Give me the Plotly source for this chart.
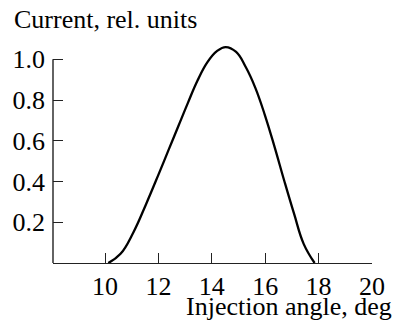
import plotly.graph_objects as go

# Injection angle (deg) and relative current
angle = [10.12, 10.58, 11.06, 11.54, 12.02, 12.38, 12.74, 13.10, 13.46, 13.83,
         14.19, 14.52, 14.91, 15.27, 15.63, 15.99, 16.35, 16.71, 17.08, 17.44, 17.85]
current = [0.0, 0.045, 0.150, 0.29, 0.44, 0.555, 0.67, 0.785, 0.895, 0.985,
           1.04, 1.06, 1.036, 0.962, 0.860, 0.725, 0.570, 0.405, 0.242, 0.094, 0.0]

x_ticks = [10, 12, 14, 16, 18, 20]
y_ticks = [0.2, 0.4, 0.6, 0.8, 1.0]
x_title = "Injection angle, deg"
y_title = "Current, rel. units"

FONT = "Liberation Serif, Times New Roman, serif"
FS = 26
AXIS_COLOR = "#222222"

fig = go.Figure()
fig.add_trace(go.Scatter(
    x=angle, y=current, mode="lines",
    line=dict(color="black", width=2.3, shape="spline", smoothing=1.2),
    hoverinfo="skip", showlegend=False,
))

fig.update_layout(
    width=397, height=324,
    margin=dict(l=50, r=16, t=43, b=61),
    paper_bgcolor="white", plot_bgcolor="white",
    font=dict(family=FONT, size=FS, color="black"),
    xaxis=dict(
        range=[8.05, 20], tickvals=x_ticks,
        ticks="inside", ticklen=10, tickwidth=1.4, tickcolor=AXIS_COLOR,
        showline=True, linecolor=AXIS_COLOR, linewidth=1.4,
        showgrid=False, zeroline=False,
        tickfont=dict(family=FONT, size=FS),
    ),
    yaxis=dict(
        range=[0, 1.08], tickvals=y_ticks, ticktext=[f"{v:.1f}" for v in y_ticks],
        ticks="inside", ticklen=10, tickwidth=1.4, tickcolor=AXIS_COLOR,
        ticklabelstandoff=7,
        showline=False, showgrid=False, zeroline=False,
        tickfont=dict(family=FONT, size=FS),
    ),
    shapes=[dict(
        type="line", xref="paper", yref="y",
        x0=0, x1=0, y0=0, y1=max(y_ticks),
        line=dict(color=AXIS_COLOR, width=1.4),
    )],
    annotations=[
        dict(text=y_title, xref="paper", yref="paper", x=0, y=1,
             xanchor="left", yanchor="bottom", xshift=-41, yshift=7,
             showarrow=False, font=dict(family=FONT, size=FS)),
        dict(text=x_title, xref="paper", yref="paper", x=1, y=0,
             xanchor="right", yanchor="top", xshift=22, yshift=-27,
             showarrow=False, font=dict(family=FONT, size=FS)),
    ],
)

fig.write_html("out.html")
